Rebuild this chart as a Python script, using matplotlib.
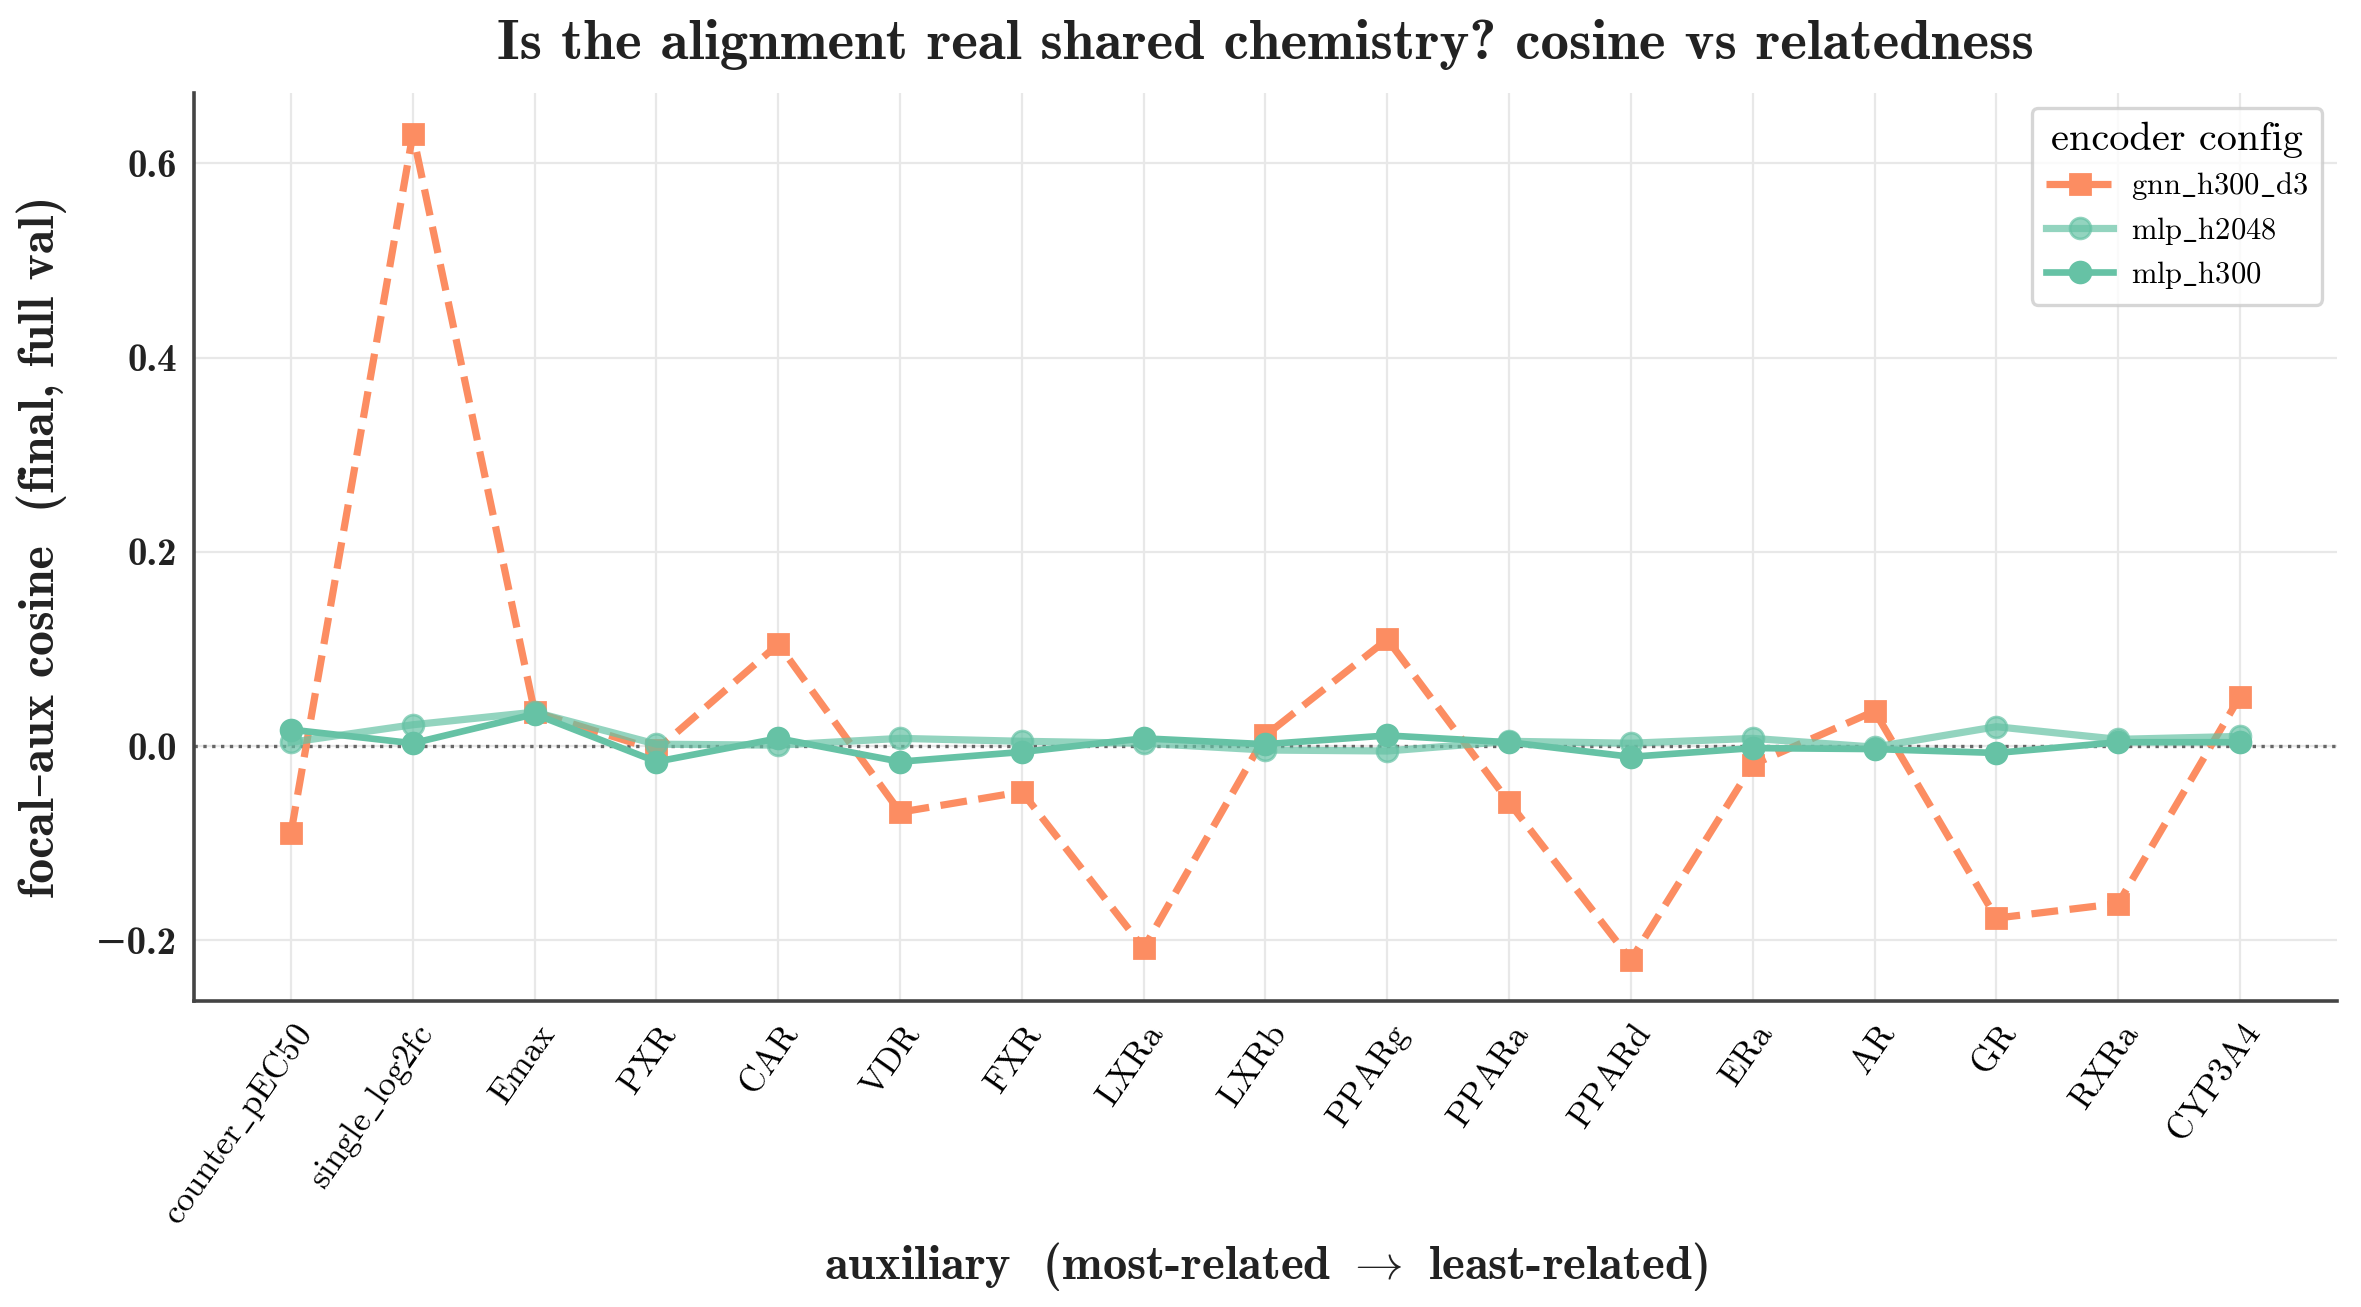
import matplotlib
matplotlib.use('Agg')
import matplotlib.pyplot as plt
import matplotlib.ticker as tck
import numpy as np

matplotlib.rcParams['mathtext.fontset'] = 'cm'
matplotlib.rcParams['axes.unicode_minus'] = False

auxiliaries = ['counter_pEC50', 'single_log2fc', 'Emax', 'PXR', 'CAR', 'VDR', 'FXR',
               'LXRa', 'LXRb', 'PPARg', 'PPARa', 'PPARd', 'ERa', 'AR', 'GR', 'RXRa', 'CYP3A4']

gnn_h300_d3 = [-0.089, 0.630, 0.035, -0.004, 0.105, -0.068, -0.047, -0.208, 0.011,
               0.110, -0.058, -0.220, -0.019, 0.036, -0.177, -0.162, 0.051]
mlp_h2048 = [0.004, 0.022, 0.035, 0.002, 0.001, 0.008, 0.005, 0.003, -0.004,
             -0.005, 0.005, 0.003, 0.008, -0.001, 0.020, 0.007, 0.010]
mlp_h300 = [0.017, 0.003, 0.033, -0.016, 0.008, -0.016, -0.006, 0.008, 0.002,
            0.011, 0.004, -0.011, -0.002, -0.003, -0.007, 0.004, 0.004]

orange = '#fc8d62'
green = '#66c2a5'
bold_cm = ['cmb10', 'DejaVu Serif']


def tex(s):
    # plain CM roman via mathtext, keeps the underscores
    return r'$\mathrm{%s}$' % s.replace('_', r'\_')


fig, ax = plt.subplots(figsize=(11.805, 6.535), dpi=200)
fig.subplots_adjust(left=0.082, right=0.990, top=0.929, bottom=0.234)

x = np.arange(len(auxiliaries))
ax.plot(x, gnn_h300_d3, color=orange, ls='--', lw=2.6, marker='s', markersize=7.5,
        label=tex('gnn_h300_d3'), zorder=3)
ax.plot(x, mlp_h2048, color=green, alpha=0.7, lw=2.6, marker='o', markersize=7.5,
        label=tex('mlp_h2048'), zorder=4)
ax.plot(x, mlp_h300, color=green, lw=2.4, marker='o', markersize=7.5,
        label=tex('mlp_h300'), zorder=5)
ax.axhline(0, color='#666666', ls=':', lw=1.2, zorder=2)

ax.grid(True, color='#e8e8e8', lw=0.8, zorder=0)
ax.set_axisbelow(True)
for s in ['top', 'right']:
    ax.spines[s].set_visible(False)
for s in ['left', 'bottom']:
    ax.spines[s].set_color('#444444')
    ax.spines[s].set_linewidth(1.3)
ax.tick_params(length=0, pad=6)

ax.set_xticks(x)
ax.set_xticklabels([tex(a) for a in auxiliaries], rotation=55, ha='right',
                   rotation_mode='anchor', fontsize=12.5)
ax.yaxis.set_major_locator(tck.MultipleLocator(0.2))
ax.yaxis.set_major_formatter(tck.FuncFormatter(
    lambda v, p: ('%.1f' % (0.0 if abs(v) < 1e-9 else v)).replace('-', '\u2212')))
for t in ax.get_yticklabels():
    t.set_fontfamily(bold_cm)
    t.set_fontsize(14)
    t.set_color('#222222')

ax.set_title('Is the alignment real shared chemistry? cosine vs relatedness',
             family=bold_cm, fontsize=20.5, pad=12, color='#222222')
ax.set_xlabel('auxiliary  (most-related $\\rightarrow$ least-related)', family=bold_cm,
              fontsize=17.5, labelpad=3, color='#222222')
ax.set_ylabel('focal\u2013aux cosine  (final, full val)', family=bold_cm,
              fontsize=18, labelpad=10, color='#222222')

leg = ax.legend(title='encoder config', loc='upper right', prop={'size': 11},
                frameon=True, fancybox=True, borderpad=0.45, labelspacing=0.4,
                handlelength=2.2, handletextpad=0.6)
leg.get_title().set_fontfamily('cmr10')
leg.get_title().set_fontsize(14.5)
leg.get_frame().set_edgecolor('#cccccc')
leg.get_frame().set_linewidth(1.2)

fig.savefig('out.png', dpi=200)
